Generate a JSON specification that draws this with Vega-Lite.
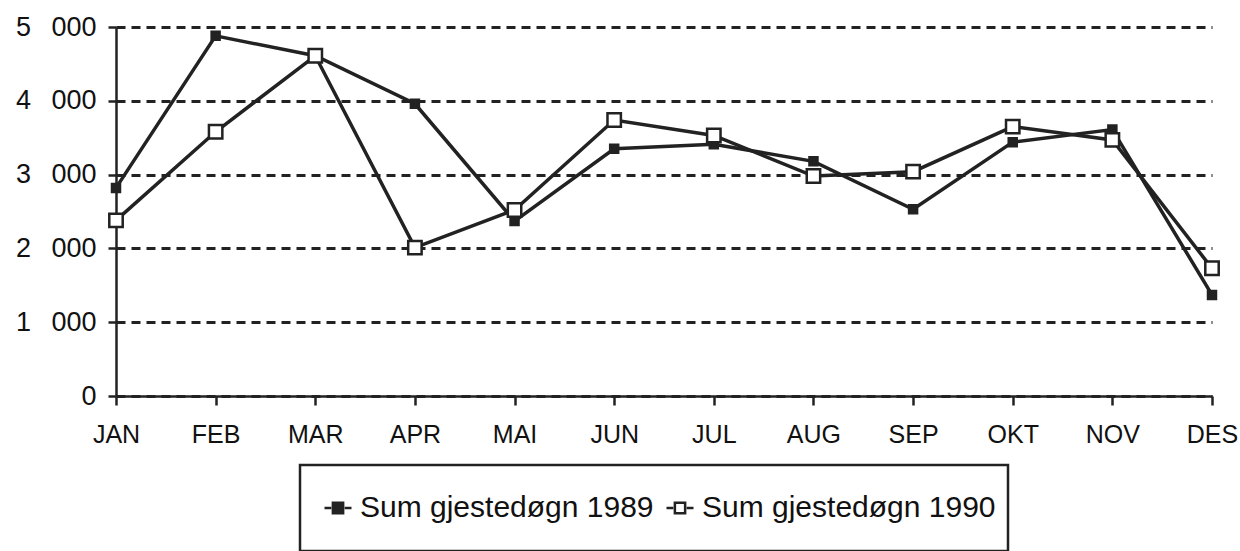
{
  "$schema": "https://vega.github.io/schema/vega-lite/v6.json",
  "width": 1096,
  "height": 369,
  "autosize": "none",
  "padding": {"left": 116, "top": 27, "right": 28, "bottom": 155},
  "background": "white",
  "data": {
    "values": [
      {"month": "JAN", "series": "Sum gjestedøgn 1989", "value": 2820},
      {"month": "FEB", "series": "Sum gjestedøgn 1989", "value": 4880},
      {"month": "MAR", "series": "Sum gjestedøgn 1989", "value": 4610},
      {"month": "APR", "series": "Sum gjestedøgn 1989", "value": 3960},
      {"month": "MAI", "series": "Sum gjestedøgn 1989", "value": 2370},
      {"month": "JUN", "series": "Sum gjestedøgn 1989", "value": 3350},
      {"month": "JUL", "series": "Sum gjestedøgn 1989", "value": 3410},
      {"month": "AUG", "series": "Sum gjestedøgn 1989", "value": 3180},
      {"month": "SEP", "series": "Sum gjestedøgn 1989", "value": 2530},
      {"month": "OKT", "series": "Sum gjestedøgn 1989", "value": 3440},
      {"month": "NOV", "series": "Sum gjestedøgn 1989", "value": 3610},
      {"month": "DES", "series": "Sum gjestedøgn 1989", "value": 1370},
      {"month": "JAN", "series": "Sum gjestedøgn 1990", "value": 2380},
      {"month": "FEB", "series": "Sum gjestedøgn 1990", "value": 3580},
      {"month": "MAR", "series": "Sum gjestedøgn 1990", "value": 4610},
      {"month": "APR", "series": "Sum gjestedøgn 1990", "value": 2010},
      {"month": "MAI", "series": "Sum gjestedøgn 1990", "value": 2520},
      {"month": "JUN", "series": "Sum gjestedøgn 1990", "value": 3740},
      {"month": "JUL", "series": "Sum gjestedøgn 1990", "value": 3530},
      {"month": "AUG", "series": "Sum gjestedøgn 1990", "value": 2980},
      {"month": "SEP", "series": "Sum gjestedøgn 1990", "value": 3040},
      {"month": "OKT", "series": "Sum gjestedøgn 1990", "value": 3650},
      {"month": "NOV", "series": "Sum gjestedøgn 1990", "value": 3470},
      {"month": "DES", "series": "Sum gjestedøgn 1990", "value": 1730}
    ]
  },
  "encoding": {
    "x": {
      "field": "month",
      "type": "ordinal",
      "sort": ["JAN","FEB","MAR","APR","MAI","JUN","JUL","AUG","SEP","OKT","NOV","DES"],
      "scale": {"type": "point", "padding": 0},
      "axis": {
        "title": null,
        "labelAngle": 0,
        "labelFont": "Liberation Sans",
        "labelFontSize": 25,
        "labelColor": "#111",
        "labelPadding": 17,
        "tickSize": 9,
        "tickWidth": 2.5,
        "tickColor": "#222",
        "domainColor": "#222",
        "domainWidth": 2.5,
        "grid": false
      }
    },
    "y": {
      "field": "value",
      "type": "quantitative",
      "scale": {"domain": [0, 5000], "nice": false},
      "axis": {
        "title": null,
        "values": [0, 1000, 2000, 3000, 4000, 5000],
        "labelExpr": "datum.value == 0 ? '0' : floor(datum.value/1000) + '\u2007\u2009000'",
        "labelFont": "Liberation Sans",
        "labelFontSize": 27,
        "labelColor": "#111",
        "labelPadding": 12,
        "tickSize": 8,
        "tickWidth": 2.5,
        "tickColor": "#222",
        "domainColor": "#222",
        "domainWidth": 2.5,
        "grid": true,
        "gridColor": "#222",
        "gridWidth": 3,
        "gridDash": [9, 6]
      }
    }
  },
  "layer": [
    {
      "mark": {"type": "line", "color": "#222", "strokeWidth": 3.5},
      "encoding": {"detail": {"field": "series"}}
    },
    {
      "mark": {"type": "point", "shape": "square", "filled": false, "stroke": "#222", "strokeWidth": 2.5, "opacity": 1},
      "encoding": {
        "fill": {
          "field": "series",
          "type": "nominal",
          "scale": {"range": ["#222", "white"]},
          "legend": {
            "title": null,
            "orient": "none",
            "legendX": 184,
            "legendY": 438,
            "direction": "horizontal",
            "padding": 12,
            "clipHeight": 62,
            "symbolOffset": 11,
            "strokeColor": "#222",
            "fillColor": "white",
            "symbolType": "M-1,0H-0.5M0.5,0H1M-0.38,-0.38H0.38V0.38H-0.38Z",
            "symbolSize": 729,
            "symbolStrokeColor": "#222",
            "symbolStrokeWidth": 2.5,
            "symbolOpacity": 1,
            "labelFont": "Liberation Sans",
            "labelFontSize": 30,
            "labelColor": "#111",
            "labelOffset": 7,
            "labelLimit": 400,
            "columnPadding": 0,
            "encode": {"legend": {"update": {"strokeWidth": {"value": 2.5}}}}
          }
        },
        "size": {
          "condition": {"test": "datum.series == 'Sum gjestedøgn 1989'", "value": 64},
          "value": 180
        }
      }
    }
  ],
  "config": {"view": {"stroke": null}}
}
